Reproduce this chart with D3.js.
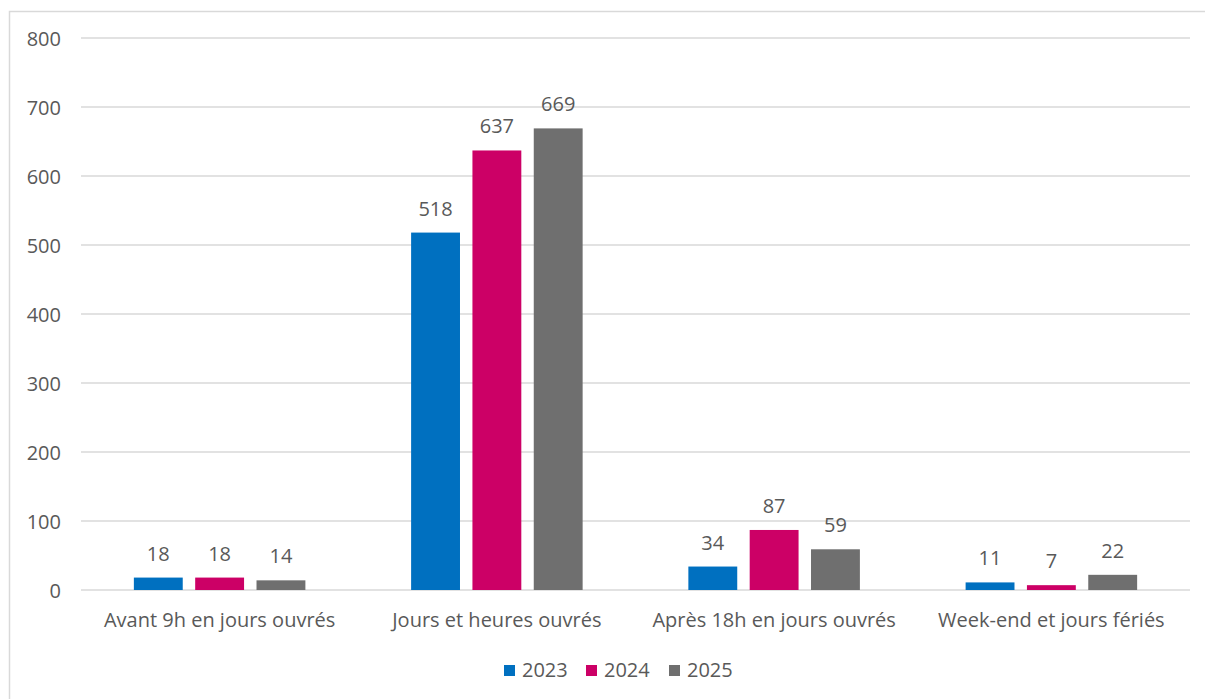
<!DOCTYPE html>
<html>
<head>
<meta charset="utf-8">
<script src="https://cdn.jsdelivr.net/npm/d3@7/dist/d3.min.js"></script>
<style>
  html, body { margin: 0; padding: 0; background: #fff; }
  svg { display: block; }
  text { font-family: "Open Sans", Lato, sans-serif; fill: #595959; }
</style>
</head>
<body>
<svg id="chart" width="1205" height="699"></svg>
<script>
// Categories (time slots) and series (years)
const categories = [
  "Avant 9h en jours ouvrés",
  "Jours et heures ouvrés",
  "Après 18h en jours ouvrés",
  "Week-end et jours fériés"
];
const years = ["2023", "2024", "2025"];
const values2023 = [18, 518, 34, 11];
const values2024 = [18, 637, 87, 7];
const values2025 = [14, 669, 59, 22];
const yTicks = [0, 100, 200, 300, 400, 500, 600, 700, 800];
const colors = ["#0070C0", "#CC0066", "#6F6F6F"];

const seriesValues = [values2023, values2024, values2025];
const rows = categories.map((c, i) => ({
  category: c,
  bars: years.map((y, j) => ({ year: y, value: seriesValues[j][i], color: colors[j] }))
}));

const svg = d3.select("#chart");

// Outer frame of the chart area
svg.append("rect")
  .attr("x", 9.5).attr("y", 11.5)
  .attr("width", 1205).attr("height", 700)
  .attr("fill", "none").attr("stroke", "#D9D9D9").attr("stroke-width", 1.5);

const plot = { left: 81, right: 1190, top: 38, bottom: 590 };
const fontSize = "20px";

const y = d3.scaleLinear().domain([0, 800]).range([plot.bottom, plot.top]);
const x0 = d3.scaleBand().domain(categories).range([plot.left, plot.right]).paddingInner(0).paddingOuter(0);
const x1 = d3.scaleBand().domain(years).range([0, x0.bandwidth()]).paddingInner(0.203).paddingOuter(0.862);

// Horizontal gridlines and value axis
const yAxis = d3.axisLeft(y).tickValues(yTicks).tickSize(0).tickPadding(0);
const gy = svg.append("g").attr("transform", `translate(${plot.left},0)`).call(yAxis);
gy.select(".domain").remove();
gy.selectAll("text")
  .attr("x", -20)
  .attr("dy", "0.35em")
  .style("font-size", fontSize)
  .attr("fill", "#595959");

svg.append("g").selectAll("line")
  .data(yTicks)
  .join("line")
  .attr("x1", plot.left).attr("x2", plot.right)
  .attr("y1", d => y(d)).attr("y2", d => y(d))
  .attr("stroke", "#D9D9D9").attr("stroke-width", 1.5);

// Bars with value labels
const groups = svg.append("g").selectAll("g")
  .data(rows)
  .join("g")
  .attr("transform", d => `translate(${x0(d.category)},0)`);

groups.selectAll("rect")
  .data(d => d.bars)
  .join("rect")
  .attr("x", d => x1(d.year))
  .attr("y", d => y(d.value))
  .attr("width", x1.bandwidth())
  .attr("height", d => y(0) - y(d.value))
  .attr("fill", d => d.color);

groups.selectAll("text.val")
  .data(d => d.bars)
  .join("text")
  .attr("class", "val")
  .attr("x", d => x1(d.year) + x1.bandwidth() / 2)
  .attr("y", d => y(d.value) - 17)
  .attr("text-anchor", "middle")
  .style("font-size", fontSize)
  .text(d => d.value);

// Category axis
const xAxis = d3.axisBottom(x0).tickSize(0).tickPadding(0);
const gx = svg.append("g").attr("transform", `translate(0,${plot.bottom})`).call(xAxis);
gx.select(".domain").remove();
gx.selectAll("text")
  .attr("y", 37)
  .attr("dy", 0)
  .style("font-size", fontSize)
  .attr("fill", "#595959");

// Legend
const legendX = [504, 586, 669];
const legend = svg.append("g").selectAll("g")
  .data(years)
  .join("g")
  .attr("transform", (d, i) => `translate(${legendX[i]},665)`);
legend.append("rect")
  .attr("width", 11).attr("height", 11)
  .attr("fill", (d, i) => colors[i]);
legend.append("text")
  .attr("x", 18).attr("y", 12)
  .style("font-size", fontSize)
  .text(d => d);
</script>
</body>
</html>
